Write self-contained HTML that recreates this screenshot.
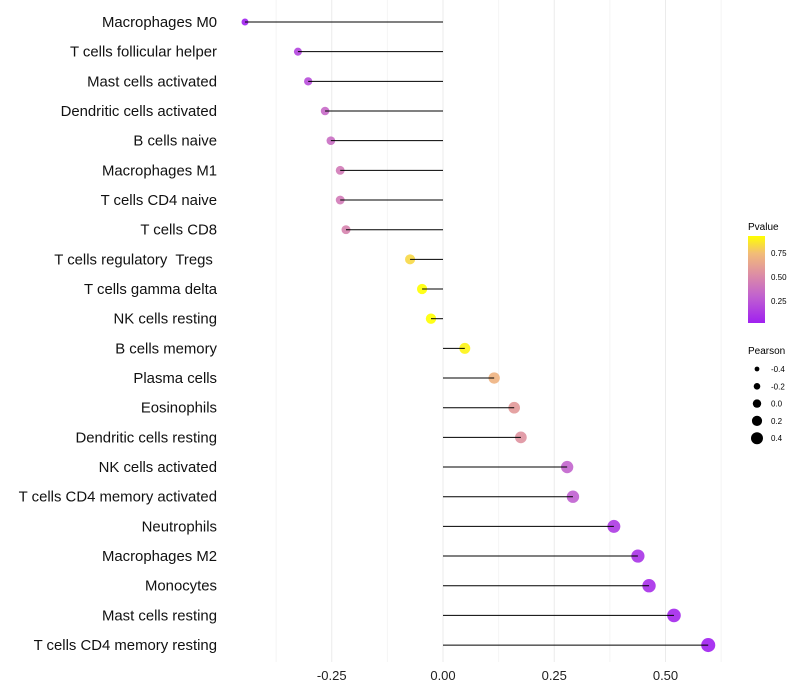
<!DOCTYPE html>
<html><head><meta charset="utf-8"><style>
html,body{margin:0;padding:0;background:#fff;}
svg{display:block;font-family:"Liberation Sans",sans-serif;}
text{white-space:pre;}
</style></head><body>
<svg id="chart" width="800" height="700">
<defs><linearGradient id="pg" x1="0" y1="1" x2="0" y2="0">
<stop offset="0" stop-color="#a020f0"/><stop offset="0.3" stop-color="#c060d0"/><stop offset="0.55" stop-color="#dc8ca6"/><stop offset="0.8" stop-color="#f2bc78"/><stop offset="1" stop-color="#ffff00"/></linearGradient></defs>
<g id="grid"></g>
<g id="marks"></g>
<g id="ylab"></g>
<g id="xlab"></g>
<g>
<text x="748" y="230" font-size="10" fill="#000">Pvalue</text>
<rect x="748" y="236" width="17" height="87" fill="url(#pg)"/>
<text x="771" y="256" font-size="8">0.75</text>
<text x="771" y="280" font-size="8">0.50</text>
<text x="771" y="304" font-size="8">0.25</text>
</g>
<g id="sizeleg">
<text x="748" y="354" font-size="10">Pearson</text>
</g>
</svg>
<script>
const categories=["Macrophages M0","T cells follicular helper","Mast cells activated","Dendritic cells activated","B cells naive","Macrophages M1","T cells CD4 naive","T cells CD8","T cells regulatory  Tregs ","T cells gamma delta","NK cells resting","B cells memory","Plasma cells","Eosinophils","Dendritic cells resting","NK cells activated","T cells CD4 memory activated","Neutrophils","Macrophages M2","Monocytes","Mast cells resting","T cells CD4 memory resting"];
const pearson=[-0.445,-0.326,-0.303,-0.265,-0.252,-0.231,-0.231,-0.218,-0.074,-0.047,-0.027,0.049,0.115,0.160,0.175,0.279,0.292,0.384,0.438,0.463,0.519,0.596];
const pvalue=[0.03,0.18,0.22,0.35,0.38,0.45,0.45,0.50,0.85,0.92,0.92,0.90,0.75,0.62,0.58,0.32,0.30,0.14,0.11,0.09,0.06,0.03];
const xTicks=[-0.25,0,0.25,0.5];
const xTickLabels=["-0.25","0.00","0.25","0.50"];
const legendSizes=[-0.4,-0.2,0,0.2,0.4];
const legendSizeLabels=["-0.4","-0.2","0.0","0.2","0.4"];
const NS="http://www.w3.org/2000/svg";
const xs=v=>443+v*445;
const ys=i=>22+i*29.67;
const rs=v=>Math.sqrt(Math.max(2,28+36*v));
function col(p){
 const stops=[[0.03,[160,32,240]],[0.3,[192,96,208]],[0.55,[220,140,166]],[0.8,[242,188,120]],[0.92,[255,255,0]]];
 if(p<=stops[0][0])return "rgb("+stops[0][1]+")";
 for(let k=1;k<stops.length;k++){if(p<=stops[k][0]){const a=stops[k-1],b=stops[k],t=(p-a[0])/(b[0]-a[0]);return "rgb("+a[1].map((c,j)=>Math.round(c+(b[1][j]-c)*t)).join(",")+")";}}
 return "rgb(255,255,0)";
}
function mk(tag,attrs,parent){const e=document.createElementNS(NS,tag);for(const k in attrs)e.setAttribute(k,attrs[k]);parent.appendChild(e);return e;}
const grid=document.getElementById('grid'),marks=document.getElementById('marks'),ylab=document.getElementById('ylab'),xlab=document.getElementById('xlab');
[-0.375,-0.125,0.125,0.375,0.625].forEach(v=>{
 const l=mk('line',{x1:xs(v),x2:xs(v),y1:0,y2:662,stroke:'#f4f4f4','stroke-width':1},grid);
 
 
});
xTicks.forEach((v,i)=>{
 const l=mk('line',{x1:xs(v),x2:xs(v),y1:0,y2:662,stroke:'#ebebeb','stroke-width':1},grid);
 
 
 const t=mk('text',{x:xs(v),y:680,'font-size':13,'text-anchor':'middle',fill:'#222'},xlab);
 t.textContent=xTickLabels[i];
 
 
});
categories.forEach((c,i)=>{
 const y=ys(i);
 const t=mk('text',{x:217,y:y+5,'font-size':14.9,'text-anchor':'end',fill:'#111'},ylab);
 t.textContent=c;
 
 
 const d=mk('circle',{cx:xs(pearson[i]),cy:y,r:rs(pearson[i]),fill:col(pvalue[i]),'fill-opacity':0.9},marks);
 
 
 const l=mk('line',{x1:xs(0),x2:xs(pearson[i]),y1:y,y2:y,stroke:'#000','stroke-width':1},marks);
 
 
});
const sl=document.getElementById('sizeleg');
legendSizes.forEach((v,i)=>{
 const y=369+i*17.3;
 const c=mk('circle',{cx:757,cy:y,r:4.2+4.5*v,fill:'#000'},sl);
 
 
 const t=mk('text',{x:771,y:y+3,'font-size':8},sl);
 t.textContent=legendSizeLabels[i];
 
 
});
</script>
</body></html>
